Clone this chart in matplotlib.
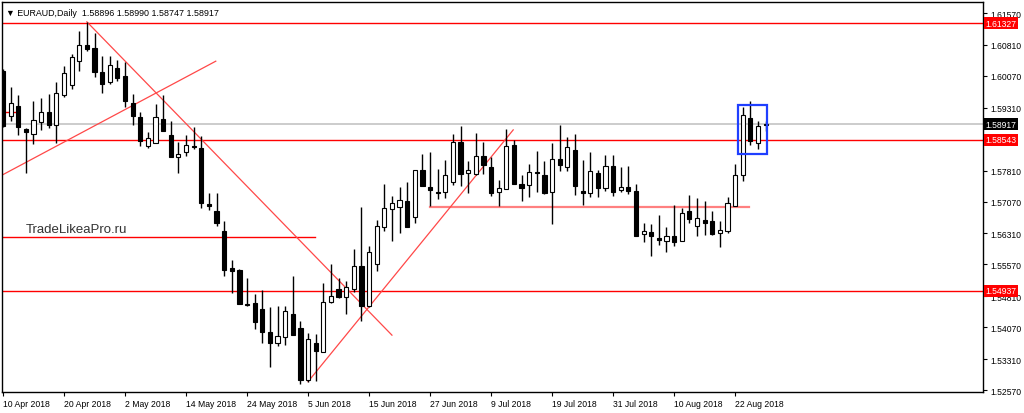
import numpy as np
import matplotlib
matplotlib.use("Agg")
import matplotlib.pyplot as plt
import matplotlib.transforms as mtransforms
from matplotlib.patches import Rectangle

plt.rcParams['font.family'] = ['Liberation Sans', 'DejaVu Sans']

# EURAUD daily, 10 Apr 2018 .. 28 Aug 2018 (one entry per bar)
opens = [1.6019, 1.5911, 1.5935, 1.5880, 1.5868, 1.5897, 1.5921, 1.5890, 1.5961, 1.5985,
         1.6042, 1.6081, 1.6073, 1.6016, 1.5992, 1.6026, 1.6007, 1.5942, 1.5909, 1.5840,
         1.5847, 1.5904, 1.5866, 1.5813, 1.5825, 1.5840, 1.5835, 1.5701, 1.5684, 1.5637,
         1.5548, 1.5544, 1.5462, 1.5465, 1.5451, 1.5396, 1.5369, 1.5384, 1.5439, 1.5405,
         1.5281, 1.5369, 1.5348, 1.5467, 1.5498, 1.5479, 1.5498, 1.5553, 1.5458, 1.5558,
         1.5646, 1.5689, 1.5694, 1.5708, 1.5670, 1.5782, 1.5742, 1.5730, 1.5730, 1.5754,
         1.5849, 1.5775, 1.5773, 1.5816, 1.5789, 1.5730, 1.5737, 1.5842, 1.5749, 1.5746,
         1.5778, 1.5770, 1.5730, 1.5809, 1.5789, 1.5830, 1.5732, 1.5727, 1.5775, 1.5739,
         1.5792, 1.5735, 1.5742, 1.5732, 1.5630, 1.5634, 1.5620, 1.5613, 1.5625, 1.5613,
         1.5684, 1.5649, 1.5663, 1.5660, 1.5632, 1.5637, 1.5696, 1.5770, 1.5906, 1.5847,
         1.58896]
highs = [1.6023, 1.5980, 1.5961, 1.5883, 1.5947, 1.5954, 1.5964, 1.5992, 1.6030, 1.6059,
         1.6114, 1.6136, 1.6109, 1.6054, 1.6054, 1.6045, 1.6040, 1.5964, 1.5921, 1.5873,
         1.5940, 1.5961, 1.5899, 1.5849, 1.5866, 1.5885, 1.5863, 1.5727, 1.5727, 1.5660,
         1.5567, 1.5546, 1.5524, 1.5486, 1.5496, 1.5455, 1.5458, 1.5458, 1.5529, 1.5422,
         1.5393, 1.5391, 1.5513, 1.5558, 1.5524, 1.5517, 1.5594, 1.5694, 1.5601, 1.5663,
         1.5749, 1.5720, 1.5742, 1.5754, 1.5782, 1.5820, 1.5825, 1.5785, 1.5806, 1.5868,
         1.5887, 1.5804, 1.5871, 1.5849, 1.5813, 1.5758, 1.5880, 1.5854, 1.5770, 1.5797,
         1.5828, 1.5804, 1.5847, 1.5890, 1.5861, 1.5868, 1.5806, 1.5825, 1.5782, 1.5818,
         1.5818, 1.5789, 1.5792, 1.5749, 1.5656, 1.5653, 1.5675, 1.5646, 1.5699, 1.5692,
         1.5723, 1.5715, 1.5708, 1.5684, 1.5660, 1.5718, 1.5797, 1.5933, 1.5947, 1.5899,
         1.58990]
lows = [1.5885, 1.5899, 1.5866, 1.5775, 1.5844, 1.5878, 1.5883, 1.5847, 1.5957, 1.5976,
        1.6019, 1.6066, 1.6004, 1.5966, 1.5988, 1.5995, 1.5933, 1.5890, 1.5840, 1.5835,
        1.5847, 1.5875, 1.5813, 1.5775, 1.5816, 1.5832, 1.5692, 1.5687, 1.5649, 1.5529,
        1.5489, 1.5462, 1.5458, 1.5403, 1.5369, 1.5312, 1.5362, 1.5365, 1.5388, 1.5271,
        1.5276, 1.5279, 1.5348, 1.5465, 1.5477, 1.5439, 1.5491, 1.5422, 1.5455, 1.5541,
        1.5637, 1.5613, 1.5632, 1.5646, 1.5656, 1.5744, 1.5696, 1.5713, 1.5715, 1.5746,
        1.5744, 1.5727, 1.5770, 1.5773, 1.5720, 1.5696, 1.5737, 1.5749, 1.5708, 1.5718,
        1.5730, 1.5725, 1.5653, 1.5780, 1.5780, 1.5723, 1.5699, 1.5718, 1.5718, 1.5732,
        1.5720, 1.5730, 1.5725, 1.5625, 1.5610, 1.5577, 1.5603, 1.5587, 1.5601, 1.5613,
        1.5656, 1.5625, 1.5627, 1.5627, 1.5598, 1.5632, 1.5696, 1.5756, 1.5842, 1.5832,
        1.58747]
closes = [1.5887, 1.5942, 1.5885, 1.5873, 1.5902, 1.5921, 1.5890, 1.5966, 1.6014, 1.6052,
          1.6081, 1.6071, 1.6016, 1.5988, 1.6033, 1.6002, 1.5947, 1.5911, 1.5851, 1.5859,
          1.5909, 1.5875, 1.5813, 1.5820, 1.5842, 1.5837, 1.5704, 1.5696, 1.5656, 1.5544,
          1.5541, 1.5462, 1.5460, 1.5419, 1.5396, 1.5369, 1.5386, 1.5446, 1.5388, 1.5281,
          1.5379, 1.5350, 1.5467, 1.5482, 1.5479, 1.5503, 1.5553, 1.5458, 1.5587, 1.5649,
          1.5692, 1.5704, 1.5711, 1.5646, 1.5782, 1.5744, 1.5735, 1.5727, 1.5770, 1.5849,
          1.5773, 1.5782, 1.5816, 1.5794, 1.5727, 1.5739, 1.5840, 1.5749, 1.5739, 1.5778,
          1.5775, 1.5727, 1.5809, 1.5794, 1.5837, 1.5744, 1.5727, 1.5780, 1.5739, 1.5792,
          1.5730, 1.5742, 1.5732, 1.5625, 1.5637, 1.5625, 1.5615, 1.5625, 1.5610, 1.5680,
          1.5665, 1.5668, 1.5656, 1.5630, 1.5639, 1.5704, 1.5770, 1.5914, 1.5851, 1.5887,
          1.58917]

date_labels = ['10 Apr 2018', '20 Apr 2018', '2 May 2018', '14 May 2018', '24 May 2018',
               '5 Jun 2018', '15 Jun 2018', '27 Jun 2018', '9 Jul 2018', '19 Jul 2018',
               '31 Jul 2018', '10 Aug 2018', '22 Aug 2018']
price_ticks = [1.61570, 1.60810, 1.60070, 1.59310, 1.57810, 1.57070, 1.56310,
               1.55570, 1.54810, 1.54070, 1.53310, 1.52570]

# drawn objects (levels in price, trend lines as (bar, price) pairs)
levels = [1.61327, 1.58543, 1.54937]
last_price = 1.58917
short_level = 1.5623
range_level = 1.56946
left_mark = 1.5921
down_trend = [(11.0, 1.6136), (51.0, 1.5388)]
up_trend_1 = [(-0.13, 1.5770), (27.9, 1.6042)]
up_trend_2 = [(40.0, 1.5277), (66.9, 1.5878)]
box_bars = (96.4, 100.2)
box_prices = (1.5820, 1.5938)

o = np.array(opens)
h = np.array(highs)
l = np.array(lows)
c = np.array(closes)
x = np.arange(len(o))

fig = plt.figure(figsize=(10.24, 4.14), dpi=100)
ax = fig.add_axes([2 / 1024, 21 / 414, 981 / 1024, 390 / 414])
ax.set_xlim(-0.13, 128.5)
ax.set_ylim(1.52523, 1.61833)

# lines under candles
ax.axhline(last_price, color='#c8c8c8', lw=1.3, zorder=1)
for lv in levels:
    ax.axhline(lv, color='#ff0000', lw=1, zorder=1)
ax.plot([-0.13, 40.9], [short_level] * 2, color='#ff0000', lw=1, zorder=1)
ax.plot([56.0, 97.8], [range_level] * 2, color='#ff8080', lw=1.6, zorder=1)
ax.plot([-0.13, 2.0], [left_mark] * 2, color='#ff0000', lw=1, zorder=1)
for seg in (down_trend, up_trend_1, up_trend_2):
    ax.plot([seg[0][0], seg[1][0]], [seg[0][1], seg[1][1]], color='#ff4848', lw=0.9, zorder=1)

# candles
ax.vlines(x, l, h, color='black', lw=1, zorder=2)
up = c >= o
bottoms = np.minimum(o, c)
heights = np.abs(c - o)
ax.bar(x[up], heights[up], bottom=bottoms[up], width=0.55, color='white',
       edgecolor='black', linewidth=0.8, zorder=3)
ax.bar(x[~up], heights[~up], bottom=bottoms[~up], width=0.55, color='black',
       edgecolor='black', linewidth=0.8, zorder=3)

ax.add_patch(Rectangle((box_bars[0], box_prices[0]), box_bars[1] - box_bars[0],
                       box_prices[1] - box_prices[0], fill=False,
                       edgecolor='#1f3fff', lw=1.6, zorder=4))

# axes styling
for sp in ax.spines.values():
    sp.set_color('black')
    sp.set_linewidth(1)
ax.yaxis.tick_right()
ax.set_yticks(price_ticks)
ax.set_yticklabels([f'{p:.5f}' for p in price_ticks])
ax.tick_params(axis='y', length=3, width=0.8, pad=2, labelsize=6.2, colors='black')
ax.set_xticks(np.arange(0, 8 * len(date_labels), 8))
ax.set_xticklabels(date_labels)
ax.tick_params(axis='x', length=3, width=0.8, pad=2, labelsize=6.2)
for lab in ax.get_xticklabels():
    lab.set_ha('left')

# price tags on the right scale
trans = mtransforms.blended_transform_factory(ax.transAxes, ax.transData)
for lv in levels:
    ax.text(1.0025, lv, f'{lv:.5f}', transform=trans, fontsize=6.2, color='white',
            va='center', ha='left', zorder=6, clip_on=False,
            bbox=dict(boxstyle='square,pad=0.18', fc='#ff0000', ec='none'))
ax.text(1.0025, last_price, f'{last_price:.5f}', transform=trans, fontsize=6.2,
        color='white', va='center', ha='left', zorder=6, clip_on=False,
        bbox=dict(boxstyle='square,pad=0.18', fc='black', ec='none'))

ax.text(0.004, 0.985, '\u25bc EURAUD,Daily  1.58896 1.58990 1.58747 1.58917',
        transform=ax.transAxes, fontsize=6.4, va='top', ha='left', color='black')
ax.text(0.024, 0.418, 'TradeLikeaPro.ru', transform=ax.transAxes, fontsize=9.5,
        va='center', ha='left', color='#333333')

fig.savefig('out.png', dpi=100)
